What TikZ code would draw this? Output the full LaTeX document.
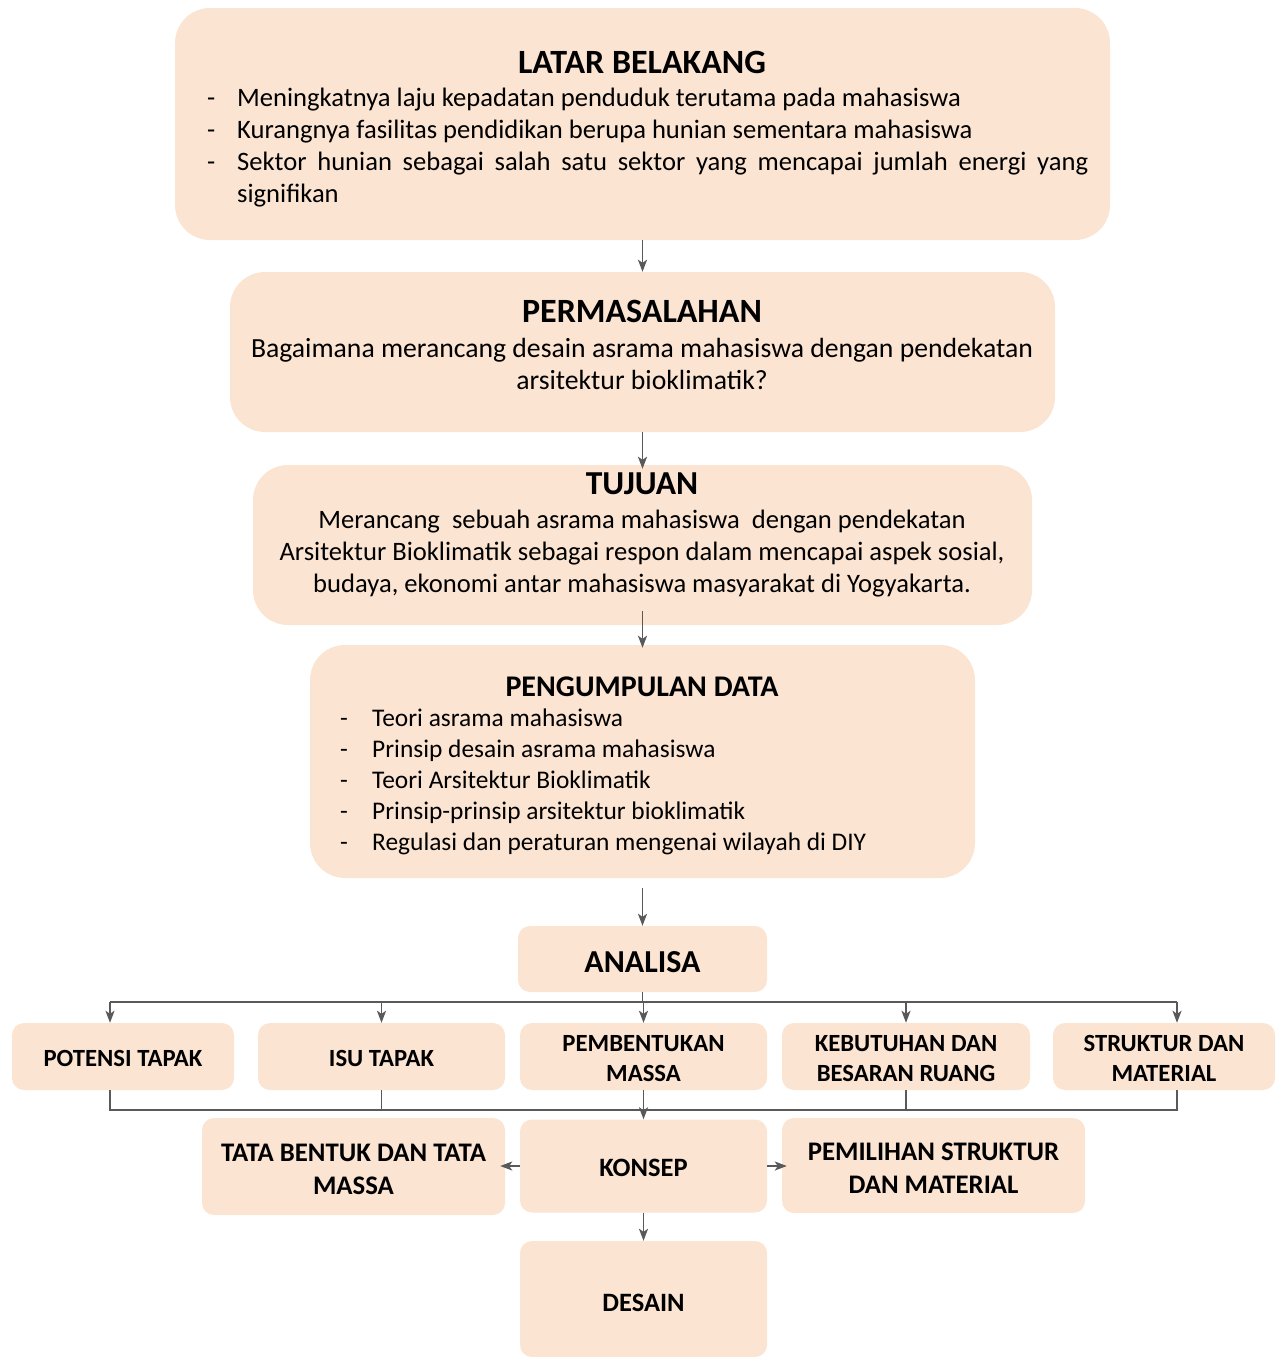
\documentclass[tikz,border=0pt]{standalone}
\usepackage{fontspec}
\setmainfont{Carlito}
\usetikzlibrary{arrows.meta}
\definecolor{peach}{RGB}{251,228,210}
\definecolor{ln}{RGB}{89,89,89}
\hyphenpenalty=10000
\begin{document}
\begin{tikzpicture}[x=1pt,y=-1pt,
 bigbox/.style={fill=peach, rounded corners=35pt, inner sep=0},
 smallbox/.style={fill=peach, rounded corners=12pt, inner sep=0},
 lbl/.style={inner sep=0, align=center, font=\fontsize{24.7}{30}\selectfont\bfseries},
 biglbl/.style={inner sep=0, align=center, font=\fontsize{26.8}{33}\selectfont\bfseries},
 conn/.style={draw=ln, line width=1.8pt},
 arr/.style={conn, -{Stealth[length=12pt,width=9pt,inset=3pt]}},
 title/.style={font=\fontsize{34}{36}\selectfont\bfseries, inner sep=0},
 body/.style={font=\fontsize{26.6}{32}\selectfont, inner sep=0},
 line/.style={body, anchor=base},
 bl/.style={body, anchor=base west},
]
\useasboundingbox (0,0) rectangle (1277,1357);
% LATAR BELAKANG
\node[bigbox, minimum width=935pt, minimum height=232pt] (lb) at (642.5,124) {};
\node[title] (lbt) at (642,62) {LATAR BELAKANG};
\node[bl] (lbd1) at (207,106) {-};
\node[bl] (lb1) at (237,106) {Meningkatnya laju kepadatan penduduk terutama pada mahasiswa};
\node[bl] (lbd2) at (207,138) {-};
\node[bl] (lb2) at (237,138) {Kurangnya fasilitas pendidikan berupa hunian sementara mahasiswa};
\node[bl] (lbd3) at (207,170) {-};
\node[bl] (lb3) at (237,170) {\parbox[t]{851pt}{Sektor hunian sebagai salah satu sektor yang mencapai jumlah energi yang signifikan}};
% PERMASALAHAN
\node[bigbox, minimum width=825pt, minimum height=160pt] (pr) at (642.5,352) {};
\node[title] (prt) at (642,311) {PERMASALAHAN};
\node[line, font=\fontsize{27.7}{32}\selectfont] (pr1) at (642,357) {Bagaimana merancang desain asrama mahasiswa dengan pendekatan};
\node[line, font=\fontsize{27.7}{32}\selectfont] (pr2) at (642,389) {arsitektur bioklimatik?};
% TUJUAN
\node[bigbox, minimum width=779pt, minimum height=160pt] (tj) at (642.5,545) {};
\node[title, font=\fontsize{33.5}{36}\selectfont\bfseries] (tjt) at (642,484) {TUJUAN};
\node[line] (tj1) at (642,528) {Merancang\ \ sebuah asrama mahasiswa\ \ dengan pendekatan};
\node[line] (tj2) at (642,560) {Arsitektur Bioklimatik sebagai respon dalam mencapai aspek sosial,};
\node[line] (tj3) at (642,592) {budaya, ekonomi antar mahasiswa masyarakat di Yogyakarta.};
% PENGUMPULAN DATA
\node[bigbox, minimum width=665pt, minimum height=233pt] (pd) at (642.5,761.5) {};
\node[title, font=\fontsize{30}{34}\selectfont\bfseries] (pdt) at (642,687) {PENGUMPULAN DATA};
\foreach \t [count=\i] in {Teori asrama mahasiswa,Prinsip desain asrama mahasiswa,Teori Arsitektur Bioklimatik,Prinsip-prinsip arsitektur bioklimatik,Regulasi dan peraturan mengenai wilayah di DIY}{
  \node[bl, font=\fontsize{25.4}{31}\selectfont] (pdd\i) at (340,{726+31*(\i-1)}) {-};
  \node[bl, font=\fontsize{25.4}{31}\selectfont] (pd\i) at (372,{726+31*(\i-1)}) {\t};
}
% ANALISA
\node[smallbox, minimum width=249pt, minimum height=66pt] (an) at (642.5,959) {};
\node[title, font=\fontsize{32}{34}\selectfont\bfseries] (anl) at (642.5,962) {ANALISA};
% row
\node[smallbox, minimum width=222pt, minimum height=67pt] (pt) at (123,1056.5) {};
\node[smallbox, minimum width=247pt, minimum height=67pt] (is) at (381.5,1056.5) {};
\node[smallbox, minimum width=247pt, minimum height=67pt] (pm) at (643.5,1056.5) {};
\node[smallbox, minimum width=248pt, minimum height=67pt] (kb) at (906,1056.5) {};
\node[smallbox, minimum width=222pt, minimum height=67pt] (st) at (1164,1056.5) {};
\node[lbl] (ptl) at (123,1058.5) {POTENSI TAPAK};
\node[lbl] (isl) at (381.5,1058.5) {ISU TAPAK};
\node[lbl] (pml) at (643.5,1058.5) {PEMBENTUKAN\\MASSA};
\node[lbl] (kbl) at (906,1058.5) {KEBUTUHAN DAN\\BESARAN RUANG};
\node[lbl] (stl) at (1164,1058.5) {STRUKTUR DAN\\MATERIAL};
% concept row
\node[smallbox, minimum width=247pt, minimum height=93pt] (ks) at (643.5,1166) {};
\node[smallbox, minimum width=303pt, minimum height=97pt] (tb) at (353.5,1166.5) {};
\node[smallbox, minimum width=303pt, minimum height=95pt] (pe) at (933.5,1165.5) {};
\node[smallbox, minimum width=247pt, minimum height=116pt] (de) at (643.5,1299) {};
\node[biglbl, font=\fontsize{26.5}{33}\selectfont\bfseries] (ksl) at (643.5,1168) {KONSEP};
\node[biglbl] (tbl) at (353.5,1169) {TATA BENTUK DAN TATA\\MASSA};
\node[biglbl] (pel) at (933.5,1168) {PEMILIHAN STRUKTUR\\DAN MATERIAL};
\node[biglbl, font=\fontsize{26.5}{33}\selectfont\bfseries] (del) at (643.5,1303) {DESAIN};
% connectors
\draw[arr] (lb.south) -- (pr.north);
\draw[arr] (pr.south) -- ([yshift=-4pt]tj.north);
\draw[arr] ([yshift=14pt]tj.south) -- ([yshift=-3pt]pd.north);
\draw[arr] ([yshift=-10pt]pd.south) -- (an.north);
\coordinate (bl) at (110,1002);
\coordinate (br) at (1177,1002);
\coordinate (cl) at (110,1110);
\coordinate (cr) at (1177,1110);
\draw[conn] (bl) -- (br);
\draw[conn] (an.south) -- (an.south |- bl);
\draw[arr] (bl) -- (bl |- pt.north);
\draw[arr] (is.north |- bl) -- (is.north);
\draw[arr] (pm.north |- bl) -- (pm.north);
\draw[arr] (kb.north |- bl) -- (kb.north);
\draw[arr] (br) -- (br |- st.north);
\draw[conn] (cl |- pt.south) -- (cl) -- (cr) -- (cr |- st.south);
\draw[conn] (is.south) -- (is.south |- cl);
\draw[conn] (kb.south) -- (kb.south |- cl);
\draw[arr] (pm.south) -- (ks.north);
\draw[arr] (ks.west) -- ([xshift=-5pt]tb.east |- ks.west);
\draw[arr] (ks.east) -- ([xshift=5pt]pe.west |- ks.east);
\draw[arr] (ks.south) -- (de.north);
\end{tikzpicture}
\end{document}
